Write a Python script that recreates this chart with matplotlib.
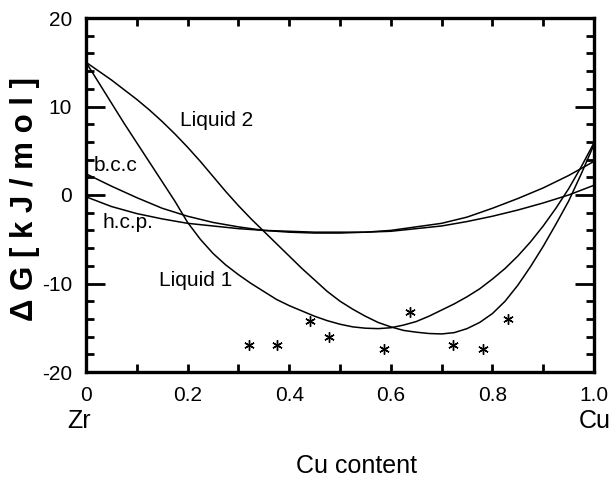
import numpy as np
import matplotlib
matplotlib.use('Agg')
from matplotlib import pyplot as plt
from matplotlib.ticker import MultipleLocator

plt.rcParams['font.family'] = ['Liberation Sans', 'DejaVu Sans']
plt.rcParams['axes.unicode_minus'] = False

# Cu mole fraction, free energy of each phase in kJ/mol
x_liq = [0.0, 0.025, 0.05, 0.075, 0.1, 0.125, 0.15, 0.175, 0.2, 0.225,
         0.25, 0.275, 0.3, 0.325, 0.35, 0.375, 0.4, 0.425, 0.45, 0.475,
         0.5, 0.525, 0.55, 0.575, 0.6, 0.625, 0.65, 0.675, 0.7, 0.725,
         0.75, 0.775, 0.8, 0.825, 0.85, 0.875, 0.9, 0.925, 0.95, 0.975, 1.0]
liquid1 = [15.0, 12.7, 10.4, 8.1, 5.9, 3.7, 1.5, -0.7, -3.1, -5.0,
           -6.6, -7.9, -9.0, -10.0, -10.9, -11.8, -12.5, -13.1, -13.7, -14.2,
           -14.6, -14.9, -15.05, -15.1, -15.0, -14.7, -14.3, -13.7, -13.0, -12.3,
           -11.5, -10.6, -9.5, -8.3, -6.9, -5.3, -3.5, -1.5, 0.7, 3.2, 5.9]
liquid2 = [15.0, 14.0, 13.0, 11.9, 10.8, 9.6, 8.3, 6.9, 5.4, 3.8,
           2.1, 0.4, -1.2, -2.7, -4.1, -5.5, -6.9, -8.3, -9.6, -10.9,
           -12.0, -12.9, -13.7, -14.4, -14.9, -15.3, -15.5, -15.65, -15.7, -15.55,
           -15.1, -14.4, -13.4, -12.0, -10.2, -8.1, -5.8, -3.3, -0.7, 2.4, 5.7]

x_sol = [0.0, 0.05, 0.1, 0.15, 0.2, 0.25, 0.3, 0.35, 0.4, 0.45, 0.5,
         0.55, 0.6, 0.65, 0.7, 0.75, 0.8, 0.85, 0.9, 0.95, 1.0]
bcc = [2.4, 1.0, -0.3, -1.5, -2.4, -3.1, -3.6, -4.0, -4.2, -4.3, -4.3,
       -4.2, -4.0, -3.6, -3.2, -2.5, -1.5, -0.4, 0.8, 2.2, 3.8]
hcp = [-0.2, -1.3, -2.1, -2.7, -3.2, -3.5, -3.8, -4.0, -4.1, -4.2, -4.2,
       -4.2, -4.1, -3.8, -3.5, -3.0, -2.4, -1.7, -0.9, 0.0, 1.1]

# measured points
exp_x = [0.321, 0.376, 0.44, 0.478, 0.587, 0.638, 0.722, 0.781, 0.831]
exp_g = [-17.0, -17.0, -14.2, -16.1, -17.4, -13.2, -17.0, -17.4, -14.0]

xticks = [0, 0.2, 0.4, 0.6, 0.8, 1.0]
xticklabels = ['0', '0.2', '0.4', '0.6', '0.8', '1.0']
yticks = [-20, -10, 0, 10, 20]

fig = plt.figure(figsize=(6.12, 4.82), dpi=100)
ax = fig.add_axes([86/612, 1-372/482, 508/612, 354/482])

ax.plot(x_liq, liquid1, '-k', lw=1.1)
ax.plot(x_liq, liquid2, '-k', lw=1.1)
ax.plot(x_sol, bcc, '-k', lw=1.1)
ax.plot(x_sol, hcp, '-k', lw=1.1)
ax.plot(exp_x, exp_g, linestyle='none', marker=(6, 2, 0), ms=7.5, mec='k', mew=1.0)

ax.text(0.185, 8.4, 'Liquid 2', fontsize=15, va='center')
ax.text(0.144, -9.7, 'Liquid 1', fontsize=15, va='center')
ax.text(0.016, 3.3, 'b.c.c', fontsize=15, va='center')
ax.text(0.033, -3.1, 'h.c.p.', fontsize=15, va='center')

ax.set_xlim(0, 1)
ax.set_ylim(-20, 20)
ax.set_xticks(xticks)
ax.set_xticklabels(xticklabels)
ax.set_yticks(yticks)
ax.xaxis.set_minor_locator(MultipleLocator(0.1))
ax.yaxis.set_minor_locator(MultipleLocator(2))
ax.tick_params(which='both', direction='in', top=True, right=True, width=2, labelsize=15)
ax.tick_params(axis='x', which='both', length=6, pad=10)
ax.tick_params(axis='y', which='major', length=14, pad=10)
ax.tick_params(axis='y', which='minor', length=6)
for s in ax.spines.values():
    s.set_linewidth(2.4)

ax.text(-0.014, -0.138, 'Zr', fontsize=18, ha='center', va='center', transform=ax.transAxes)
ax.text(0.969, -0.138, 'Cu', fontsize=18, ha='left', va='center', transform=ax.transAxes)
ax.text(0.533, -0.266, 'Cu content', fontsize=18, ha='center', va='center', transform=ax.transAxes)
fig.text(25/612, 1-199/482, 'Δ G [ k J / m o l ]', fontsize=22.5, fontweight='bold',
         rotation=90, ha='center', va='center')

plt.savefig('out.png', dpi=100)
